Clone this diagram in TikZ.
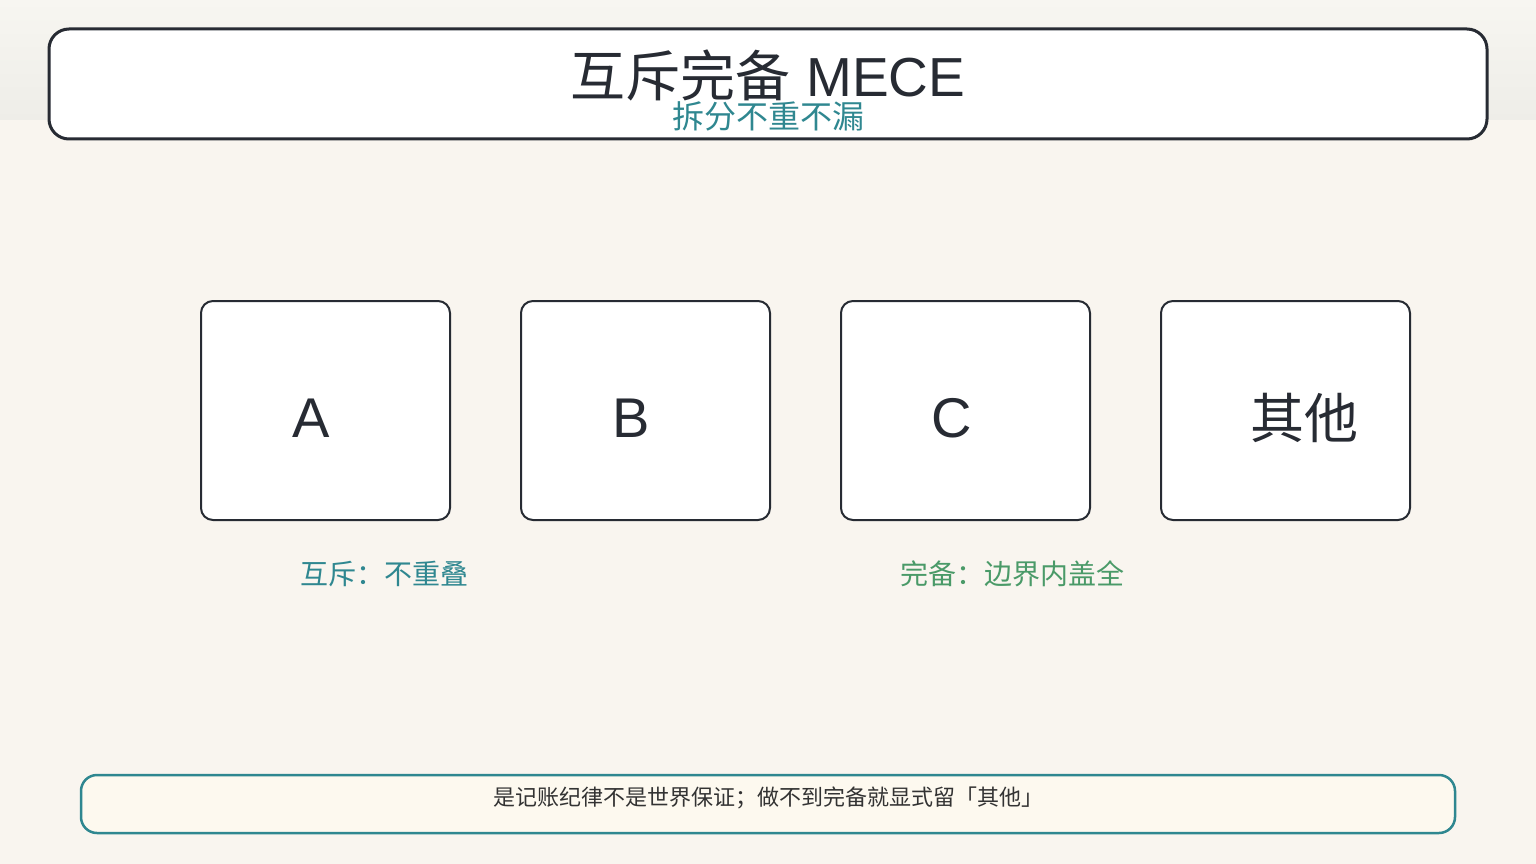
\documentclass[tikz,border=0pt]{standalone}
\usepackage{fontspec}
\setmainfont{Liberation Sans}
\newfontfamily\cjk{Noto Sans CJK SC}
\definecolor{bgmain}{HTML}{F9F5EF}
\definecolor{bgtop}{HTML}{F7F6F1}
\definecolor{bgtopb}{HTML}{EEEDE8}
\definecolor{ink}{HTML}{272B33}
\definecolor{teal}{HTML}{2F8790}
\definecolor{leaf}{HTML}{4A9A68}
\definecolor{notefill}{HTML}{FDF9EF}
\definecolor{notetext}{HTML}{333333}
\tikzset{
  titlebox/.style={draw=ink, line width=3pt, fill=white, rounded corners=20pt},
  itembox/.style={draw=ink, line width=2pt, fill=white, rounded corners=12pt, minimum width=249pt, minimum height=219pt, inner sep=0pt},
  itemtext/.style={anchor=west, inner sep=0pt, text=ink, font=\fontsize{56}{60}\selectfont},
  notebox/.style={draw=teal, line width=2.5pt, fill=notefill, rounded corners=16pt, minimum width=1374pt, minimum height=58pt, inner sep=0pt},
}
\begin{document}
\begin{tikzpicture}[x=1pt,y=-1pt]
\useasboundingbox (0,0) rectangle (1536,864);
\fill[bgmain] (0,0) rectangle (1536,864);
\shade[top color=bgtop, bottom color=bgtopb] (0,0) rectangle (1536,120);
% title
\draw[titlebox] (49,29) rectangle (1487,139);
\node[anchor=base, inner sep=0pt, text=ink, font=\fontsize{55}{60}\selectfont] (title) at (768,97) {{\cjk 互斥完备} MECE};
\node[anchor=center, inner sep=0pt, text=teal, font=\cjk\fontsize{32}{36}\selectfont] (sub) at (768,116) {拆分不重不漏};
% boxes
\node[itembox] (ba) at (325.5,410.5) {};
\node[itembox] (bb) at (645.5,410.5) {};
\node[itembox] (bc) at (965.5,410.5) {};
\node[itembox] (bd) at (1285.5,410.5) {};
\node[itemtext] (ta) at (292,418) {A};
\node[itemtext] (tb) at (612,418) {B};
\node[itemtext] (tc) at (931,418) {C};
\node[itemtext, font=\cjk\fontsize{54}{60}\selectfont] (td) at (1250,418) {其他};
% labels
\node[inner sep=0pt, text=teal, font=\cjk\fontsize{28}{32}\selectfont] (la) at (384,574) {互斥：不重叠};
\node[inner sep=0pt, text=leaf, font=\cjk\fontsize{28}{32}\selectfont] (lc) at (1012,574) {完备：边界内盖全};
% note
\node[notebox] (note) at (768,804) {};
\node[inner sep=0pt, text=notetext, font=\cjk\fontsize{22}{26}\selectfont] (notet) at (768,798) {是记账纪律不是世界保证；做不到完备就显式留「其他」};
\end{tikzpicture}
\end{document}
